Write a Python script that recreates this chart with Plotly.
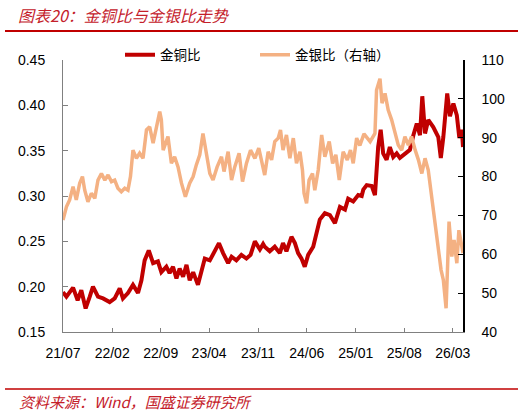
import plotly.graph_objects as go

# ---- data ----
gc_dates = [
    "2021-07-01", "2021-07-16", "2021-08-14", "2021-09-03", "2021-09-19", "2021-10-08",
    "2021-10-26", "2021-11-09", "2021-12-01", "2021-12-23", "2022-01-21", "2022-02-12",
    "2022-03-06", "2022-03-20", "2022-04-11", "2022-05-03", "2022-05-25", "2022-06-09",
    "2022-06-23", "2022-07-11", "2022-07-30", "2022-08-20", "2022-09-04", "2022-09-26",
    "2022-10-10", "2022-10-25", "2022-11-09", "2022-11-23", "2022-12-08", "2022-12-23",
    "2023-01-06", "2023-01-21", "2023-02-11", "2023-02-26", "2023-03-13", "2023-04-04",
    "2023-04-26", "2023-05-14", "2023-06-01", "2023-06-23", "2023-07-08", "2023-07-29",
    "2023-08-20", "2023-09-11", "2023-09-29", "2023-10-18", "2023-11-09", "2023-11-23",
    "2023-11-30", "2023-12-22", "2024-01-13", "2024-02-04", "2024-02-18", "2024-03-04",
    "2024-03-26", "2024-04-10", "2024-04-24", "2024-05-09", "2024-05-23", "2024-06-07",
    "2024-06-29", "2024-07-14", "2024-07-28", "2024-08-19", "2024-09-10", "2024-10-02",
    "2024-10-24", "2024-11-15", "2024-11-29", "2024-12-21", "2025-01-12", "2025-01-27",
    "2025-02-03", "2025-02-18", "2025-03-12", "2025-03-26", "2025-04-02", "2025-04-09",
    "2025-04-20", "2025-05-01", "2025-05-16", "2025-05-30", "2025-06-14", "2025-06-29",
    "2025-07-13", "2025-08-04", "2025-08-26", "2025-09-10", "2025-09-25", "2025-10-09",
    "2025-10-19", "2025-10-31", "2025-11-14", "2025-12-06", "2025-12-28", "2026-01-08",
    "2026-01-19", "2026-02-05", "2026-02-17", "2026-03-04", "2026-03-19", "2026-03-30",
    "2026-04-10", "2026-04-15",
]
gold_copper = [
    0.194, 0.189, 0.199, 0.185, 0.196, 0.176,
    0.189, 0.200, 0.189, 0.187, 0.183, 0.187,
    0.198, 0.187, 0.193, 0.202, 0.193, 0.207,
    0.229, 0.240, 0.226, 0.228, 0.216, 0.222,
    0.215, 0.222, 0.209, 0.220, 0.211, 0.224,
    0.207, 0.216, 0.202, 0.215, 0.231, 0.229,
    0.240, 0.248, 0.237, 0.226, 0.233, 0.229,
    0.235, 0.231, 0.235, 0.250, 0.241, 0.247,
    0.244, 0.239, 0.244, 0.237, 0.248, 0.239,
    0.255, 0.248, 0.237, 0.231, 0.222, 0.235,
    0.244, 0.259, 0.274, 0.281, 0.279, 0.270,
    0.288, 0.285, 0.297, 0.294, 0.301, 0.300,
    0.307, 0.312, 0.311, 0.301, 0.332, 0.354,
    0.373, 0.347, 0.340, 0.354, 0.343, 0.347,
    0.342, 0.347, 0.351, 0.367, 0.380, 0.367,
    0.410, 0.369, 0.384, 0.376, 0.365, 0.342,
    0.365, 0.413, 0.388, 0.402, 0.389, 0.364,
    0.373, 0.354,
]

gs_dates = [
    "2021-07-01", "2021-07-16", "2021-07-30", "2021-08-14", "2021-08-28", "2021-09-12",
    "2021-09-24", "2021-10-04", "2021-10-18", "2021-11-02", "2021-11-17", "2021-12-01",
    "2021-12-16", "2021-12-31", "2022-01-14", "2022-01-29", "2022-02-12", "2022-02-26",
    "2022-03-13", "2022-03-28", "2022-04-11", "2022-04-22", "2022-05-03", "2022-05-18",
    "2022-06-01", "2022-06-16", "2022-07-01", "2022-07-15", "2022-07-30", "2022-08-13",
    "2022-08-28", "2022-09-04", "2022-09-12", "2022-10-03", "2022-10-18", "2022-11-01",
    "2022-11-16", "2022-12-01", "2022-12-18", "2023-01-06", "2023-01-21", "2023-02-04",
    "2023-02-19", "2023-03-05", "2023-03-20", "2023-04-04", "2023-04-18", "2023-05-06",
    "2023-05-25", "2023-06-05", "2023-06-23", "2023-07-08", "2023-07-22", "2023-08-10",
    "2023-08-25", "2023-09-11", "2023-09-29", "2023-10-18", "2023-11-04", "2023-11-20",
    "2023-11-30", "2023-12-15", "2023-12-30", "2024-01-13", "2024-01-28", "2024-02-07",
    "2024-02-18", "2024-03-04", "2024-03-19", "2024-04-03", "2024-04-17", "2024-05-02",
    "2024-05-13", "2024-05-20", "2024-05-31", "2024-06-11", "2024-06-26", "2024-07-06",
    "2024-07-21", "2024-08-05", "2024-08-19", "2024-09-07", "2024-09-22", "2024-10-06",
    "2024-10-21", "2024-11-07", "2024-11-25", "2024-12-09", "2024-12-21", "2025-01-05",
    "2025-01-19", "2025-02-06", "2025-03-05", "2025-03-26", "2025-04-02", "2025-04-17",
    "2025-04-26", "2025-05-09", "2025-05-23", "2025-06-07", "2025-06-22", "2025-07-06",
    "2025-07-21", "2025-08-04", "2025-08-19", "2025-09-02", "2025-09-18", "2025-10-02",
    "2025-10-17", "2025-10-31", "2025-11-14", "2025-11-29", "2025-12-13", "2025-12-28",
    "2026-01-09", "2026-01-19", "2026-01-31", "2026-02-07", "2026-02-13", "2026-02-25",
    "2026-03-07", "2026-03-19", "2026-03-28", "2026-04-10", "2026-04-15",
]
gold_silver = [
    68.8, 72.2, 74.0, 77.4, 74.0, 78.3,
    80.0, 76.5, 73.5, 75.7, 74.4, 79.1,
    80.8, 79.1, 80.4, 78.7, 79.1, 77.0,
    76.1, 77.0, 76.5, 80.0, 86.8, 84.7,
    86.0, 84.7, 92.0, 92.8, 88.6, 92.4,
    96.7, 94.6, 86.8, 90.3, 83.4, 85.1,
    82.5, 78.3, 74.8, 78.3, 80.0, 83.0,
    85.6, 91.1, 86.0, 80.8, 79.1, 82.5,
    85.1, 81.3, 86.4, 79.1, 82.5, 86.0,
    78.7, 83.4, 86.8, 84.7, 87.3, 83.4,
    80.4, 86.4, 84.3, 89.0, 89.9, 92.0,
    86.8, 90.7, 84.7, 89.9, 83.4, 86.4,
    81.7, 75.7, 73.1, 79.1, 80.8, 76.5,
    81.7, 90.7, 85.1, 89.0, 83.4, 85.6,
    79.1, 86.4, 84.3, 86.8, 83.4, 89.9,
    88.0, 91.0, 89.0, 91.1, 102.3, 105.2,
    98.9, 101.4, 97.1, 94.6, 91.6, 88.1,
    86.8, 90.3, 88.1, 90.3, 86.8, 84.3,
    80.8, 84.7, 81.7, 74.8, 67.1, 61.1,
    56.0, 53.4, 46.1, 57.7, 68.4, 59.4,
    63.7, 57.7, 66.2, 62.0, 60.3,
]

tick_dates = ["2021-07-01", "2022-02-01", "2022-09-01", "2023-04-01", "2023-11-01",
              "2024-06-01", "2025-01-01", "2025-08-01", "2026-03-01"]
tick_labels = ["21/07", "22/02", "22/09", "23/04", "23/11", "24/06", "25/01", "25/08", "26/03"]
x_range = ["2021-07-01", "2026-04-15"]

name_gc = "金铜比"
name_gs = "金银比（右轴）"
title_text = "图表20：金铜比与金银比走势"
source_text = "资料来源：Wind，国盛证券研究所"

# ---- layout geometry (pixels) ----
W, H = 526, 414
L, R, T, B = 63, 463, 60, 332
pw, ph = R - L, B - T


def px_x(x):
    return (x - L) / pw


def px_y(y):
    return (B - y) / ph


RED = "#C00000"
ORANGE = "#F4B183"
TXT_RED = "#C4202A"
tick_font = dict(family="Liberation Sans, Arial, sans-serif", size=14, color="#000000")

fig = go.Figure()
fig.add_trace(go.Scatter(x=gc_dates, y=gold_copper, name=name_gc, mode="lines",
                         line=dict(color=RED, width=4), yaxis="y"))
fig.add_trace(go.Scatter(x=gs_dates, y=gold_silver, name=name_gs, mode="lines",
                         line=dict(color=ORANGE, width=3.5), yaxis="y2"))

fig.update_layout(
    width=W, height=H,
    margin=dict(l=L, r=W - R, t=T, b=H - B, autoexpand=False),
    paper_bgcolor="white", plot_bgcolor="white",
    showlegend=True,
    legend=dict(orientation="h", xref="container", yref="container",
                x=120 / W, y=1 - 55 / H, xanchor="left", yanchor="middle",
                font=dict(family="Noto Sans CJK SC", size=13.5, color="#000000"),
                bgcolor="rgba(0,0,0,0)", entrywidth=90, entrywidthmode="pixels",
                tracegroupgap=0),
    xaxis=dict(type="date", range=x_range, tickmode="array",
               tickvals=tick_dates, ticktext=tick_labels,
               showgrid=False, zeroline=False, showline=True,
               linecolor="#808080", linewidth=1,
               ticks="inside", ticklen=4, tickcolor="#808080",
               tickfont=tick_font, ticklabelstandoff=8),
    yaxis=dict(range=[0.15, 0.45], dtick=0.05, tick0=0.15, tickformat=".2f",
               showgrid=False, zeroline=False, showline=True,
               linecolor="#808080", linewidth=1,
               ticks="inside", ticklen=5, tickcolor="#808080",
               tickfont=tick_font, ticklabelstandoff=14),
    yaxis2=dict(range=[40, 110], dtick=10, tick0=40, overlaying="y", side="right",
                showgrid=False, zeroline=False, showline=True,
                linecolor="#000000", linewidth=1.5,
                ticks="inside", ticklen=5, tickcolor="#000000",
                tickfont=tick_font, ticklabelstandoff=14),
)

# header / footer rules
fig.add_shape(type="line", xref="paper", yref="paper",
              x0=px_x(5), x1=px_x(518), y0=px_y(31), y1=px_y(31),
              line=dict(color=RED, width=2.2))
fig.add_shape(type="line", xref="paper", yref="paper",
              x0=px_x(5), x1=px_x(518), y0=px_y(389), y1=px_y(389),
              line=dict(color=RED, width=1.3))

fig.add_annotation(text=title_text, xref="paper", yref="paper",
                   x=px_x(16), y=px_y(15), xanchor="left", yanchor="middle",
                   showarrow=False,
                   font=dict(family="Noto Sans CJK SC", size=16, color=TXT_RED, style="italic"))
fig.add_annotation(text=source_text, xref="paper", yref="paper",
                   x=px_x(17), y=px_y(401), xanchor="left", yanchor="middle",
                   showarrow=False,
                   font=dict(family="Noto Sans CJK SC", size=15, color=TXT_RED, style="italic"))

fig.write_html("out.html")
